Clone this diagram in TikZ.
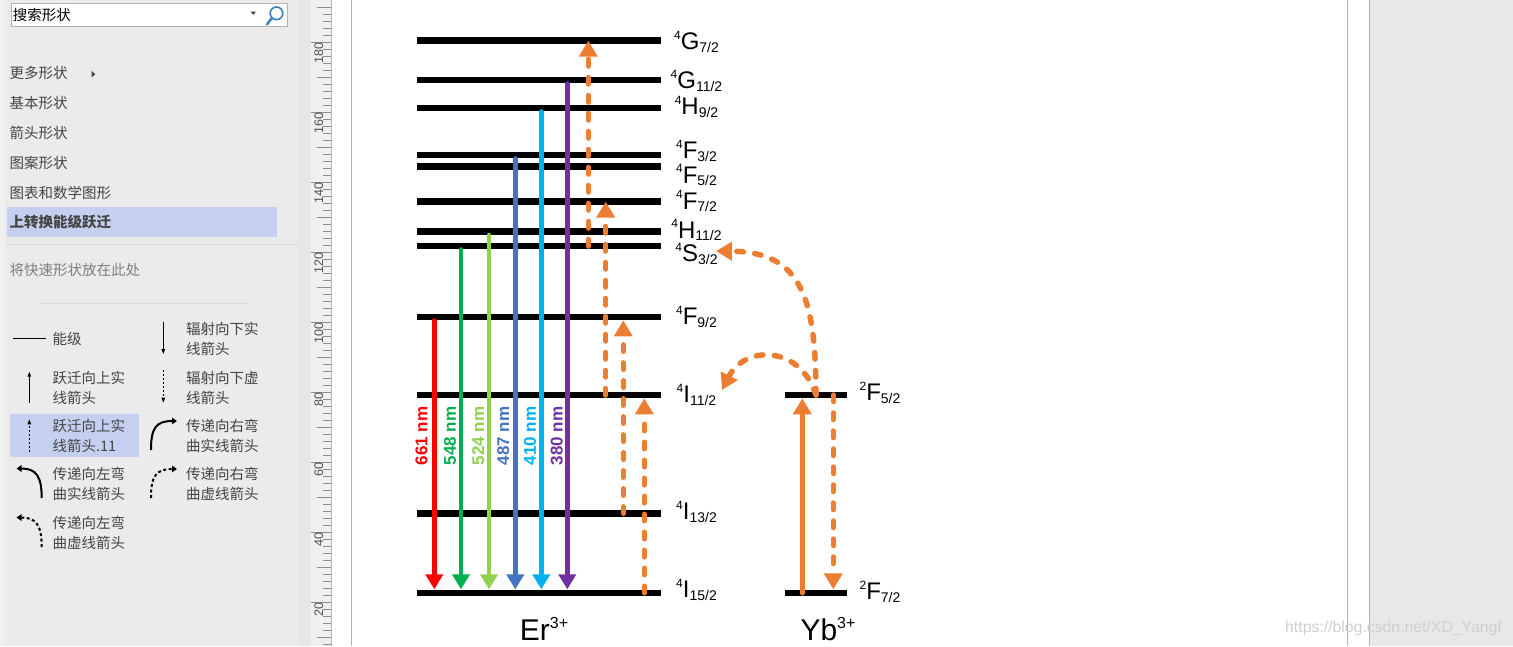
\documentclass[tikz,border=0pt]{standalone}
\usepackage{fontspec}
\setmainfont{Liberation Sans}
\newfontfamily\cjkfont{Noto Sans CJK SC}
\usetikzlibrary{arrows.meta}
\definecolor{upconvOrange}{HTML}{ED7D31}
\definecolor{upconvRed}{HTML}{FF0000}
\definecolor{upconvGreen}{HTML}{00B050}
\definecolor{upconvLightGreen}{HTML}{92D050}
\definecolor{upconvBlue}{HTML}{4472C4}
\definecolor{upconvCyan}{HTML}{00B0F0}
\definecolor{upconvPurple}{HTML}{7030A0}
\definecolor{paneGray}{HTML}{EBEBEB}
\definecolor{paneText}{HTML}{444444}
\definecolor{paneHint}{HTML}{7F7F7F}
\definecolor{paneSelect}{HTML}{C5D0F1}
\definecolor{paneRule}{HTML}{D9D9D9}
\definecolor{rulerDark}{HTML}{E6E6E6}
\definecolor{rulerLight}{HTML}{F0F0F0}
\definecolor{rulerTick}{HTML}{8C8C8C}
\definecolor{rulerText}{HTML}{505050}
\definecolor{pageEdge}{HTML}{B4B4B4}
\definecolor{canvasGray}{HTML}{E8E8E8}
\definecolor{markGray}{HTML}{CFCFCF}
\definecolor{searchBlue}{HTML}{3D7DC0}
\newcommand{\termsym}[3]{\raisebox{10.5pt}{\fontsize{12}{12}\selectfont #1}#2\raisebox{-2.5pt}{\fontsize{14}{14}\selectfont #3}}
\newcommand{\ionsym}[2]{#1\raisebox{12pt}{\fontsize{16}{16}\selectfont #2}}

\begin{document}
\begin{tikzpicture}[x=1pt,y=-1pt,
    statebar/.style={fill=black, inner sep=0pt, minimum height=6.5pt},
    erbar/.style={statebar, minimum width=244pt},
    ybbar/.style={statebar, minimum width=62pt},
    termlbl/.style={anchor=base, inner sep=0pt, font=\fontsize{24}{24}\selectfont},
    ionlbl/.style={anchor=base, inner sep=0pt, font=\fontsize{30}{30}\selectfont},
    emit/.style={line width=4.5pt, line cap=round, -{Triangle[length=15pt,width=17pt]}},
    wavelbl/.style={rotate=90, inner sep=0pt, font=\fontsize{17}{17}\selectfont\bfseries},
    absorb/.style={upconvOrange, line width=5.5pt, line cap=round, -{Triangle[length=16pt,width=18pt]}},
    pump/.style={absorb, dash pattern=on 6.5pt off 11.5pt},
    pane/.style={anchor=west, inner sep=0pt, text=paneText, align=left, font=\cjkfont\fontsize{14.5}{20}\selectfont},
    stencil/.style={line width=1pt, -{Triangle[length=5pt,width=3.5pt]}},
    stencilbend/.style={line width=2pt, -{Triangle[length=5pt,width=6.5pt]}},
    rulernum/.style={rotate=90, anchor=base east, inner sep=0pt, text=rulerText, font=\fontsize{12.5}{12.5}\selectfont}]
\useasboundingbox (0,0) rectangle (1513,646);
\fill[white] (0,0) rectangle (1513,646);

% shapes pane
\fill[paneGray] (0,0) rectangle (298,646);
\fill[rulerLight] (0,0) rectangle (5,646);
\fill[white, draw=pageEdge] (11.3,3.3) rectangle (286.7,26);
\node[pane, text=black] (search) at (12.7,15) {搜索形状};
\fill[paneText] (250.5,11.5) -- (256,11.5) -- (253.25,14.8) -- cycle;
\draw[searchBlue, line width=1.6pt] (276.5,13.3) circle (6.3);
\draw[searchBlue, line width=2.4pt, line cap=round] (271.8,18) -- (267,24.5);
\node[pane] (more) at (9.3,73.3) {更多形状};
\fill[paneText] (91.7,71) -- (95.3,74.2) -- (91.7,77.4) -- cycle;
\node[pane] (basic) at (9.3,103) {基本形状};
\node[pane] (arrows) at (9.3,133) {箭头形状};
\node[pane] (pattern) at (9.3,162.7) {图案形状};
\node[pane] (charts) at (9.3,192.7) {图表和数学图形};
\fill[paneSelect] (7,207) rectangle (277,237);
\node[pane, font=\cjkfont\bfseries\fontsize{14.5}{20}\selectfont] (upconv) at (9.3,221.7) {上转换能级跃迁};
\draw[paneRule] (7,244) -- (298,244);
\node[pane, text=paneHint] (quick) at (9.3,269.7) {将快速形状放在此处};
\draw[paneRule] (39,303) -- (248,303);

\draw[line width=1pt] (12.7,338.3) -- (45.7,338.3);
\node[pane] (s1) at (52.3,339.3) {能级};
\draw[stencil] (163.3,321.7) -- (163.3,354);
\node[pane] (s2) at (186,339.3) {辐射向下实\\线箭头};
\draw[stencil] (29.3,402.7) -- (29.3,371.7);
\node[pane] (s3) at (52.3,387.7) {跃迁向上实\\线箭头};
\draw[stencil, dash pattern=on 2pt off 2pt] (163.3,370) -- (163.3,402.7);
\node[pane] (s4) at (186,387.7) {辐射向下虚\\线箭头};
\fill[paneSelect] (10,414) rectangle (139,457);
\draw[stencil, dash pattern=on 2pt off 2pt] (29.3,451.7) -- (29.3,419.3);
\node[pane] (s5) at (52.3,435.7) {跃迁向上实\\线箭头.11};
\draw[stencilbend] (151,450) .. controls (151,428) and (156,421) .. (177,421);
\node[pane] (s6) at (186,435.7) {传递向右弯\\曲实线箭头};
\draw[stencilbend] (41.7,498) .. controls (41.7,476) and (36,468.5) .. (16.5,468.5);
\node[pane] (s7) at (52.3,484) {传递向左弯\\曲实线箭头};
\draw[stencilbend, dash pattern=on 3pt off 2.5pt] (151,498) .. controls (151,476) and (156,469) .. (177,469);
\node[pane] (s8) at (186,484) {传递向右弯\\曲虚线箭头};
\draw[stencilbend, dash pattern=on 3pt off 2.5pt] (41.7,547) .. controls (41.7,525) and (36,517.5) .. (16.5,517.5);
\node[pane] (s9) at (52.3,533.3) {传递向左弯\\曲虚线箭头};

% ruler
\fill[rulerDark] (298,0) rectangle (311,646);
\fill[rulerLight] (311,0) rectangle (331,646);
\draw[pageEdge] (331.5,0) -- (331.5,646);
\foreach \j in {0,...,91}
    \draw[rulerTick] (323,6.7+7*\j) -- (331,6.7+7*\j);
\foreach \j in {0,...,9}
    \draw[rulerTick] (317,6.7+70*\j) -- (331,6.7+70*\j);
\foreach \v [count=\k from 0] in {180,160,...,20} {
    \draw[rulerTick] (311,41.7+70*\k) -- (331,41.7+70*\k);
    \node[rulernum] (r\v) at (323,42.5+70*\k) {\v};
}

% page
\draw[pageEdge] (351,0) -- (351,646);
\draw[pageEdge] (1347,0) -- (1347,646);
\fill[canvasGray] (1369,0) rectangle (1513,646);
\draw[pageEdge] (1369,0) -- (1369,646);

% Er levels
\node[erbar] (G72) at (539,40.7) {};
\node[erbar] (G112) at (539,80) {};
\node[erbar] (H92) at (539,108) {};
\node[erbar] (F32) at (539,155) {};
\node[erbar] (F52) at (539,166.7) {};
\node[erbar] (F72) at (539,201.7) {};
\node[erbar] (H112) at (539,231.7) {};
\node[erbar] (S32) at (539,246) {};
\node[erbar] (F92) at (539,317) {};
\node[erbar] (I112) at (539,395) {};
\node[erbar] (I132) at (539,513.3) {};
\node[erbar] (I152) at (539,592.8) {};
\node[termlbl] (G72lbl) at (696.5,49.5) {\termsym{4}{G}{7/2}};
\node[termlbl] (G112lbl) at (696.5,88.5) {\termsym{4}{G}{11/2}};
\node[termlbl] (H92lbl) at (696.5,114.5) {\termsym{4}{H}{9/2}};
\node[termlbl] (F32lbl) at (696.5,158.5) {\termsym{4}{F}{3/2}};
\node[termlbl] (F52lbl) at (696.5,183) {\termsym{4}{F}{5/2}};
\node[termlbl] (F72lbl) at (696.5,209) {\termsym{4}{F}{7/2}};
\node[termlbl] (H112lbl) at (696.5,238) {\termsym{4}{H}{11/2}};
\node[termlbl] (S32lbl) at (696.5,261.5) {\termsym{4}{S}{3/2}};
\node[termlbl] (F92lbl) at (696.5,324.5) {\termsym{4}{F}{9/2}};
\node[termlbl] (I112lbl) at (696.5,402.5) {\termsym{4}{I}{11/2}};
\node[termlbl] (I132lbl) at (696.5,519.5) {\termsym{4}{I}{13/2}};
\node[termlbl] (I152lbl) at (696.5,597.5) {\termsym{4}{I}{15/2}};
\node[ionlbl] (er) at (544,640) {\ionsym{Er}{3+}};

% emissions
\draw[emit, upconvRed] ([xshift=-104.7pt]F92.south) -- ([xshift=-104.7pt]I152.north);
\draw[emit, upconvGreen] ([xshift=-78pt]S32.south) -- ([xshift=-78pt]I152.north);
\draw[emit, upconvLightGreen] ([xshift=-50pt]H112.south) -- ([xshift=-50pt]I152.north);
\draw[emit, upconvBlue] ([xshift=-23.7pt]F32.south) -- ([xshift=-23.7pt]I152.north);
\draw[emit, upconvCyan] ([xshift=2.3pt]H92.south) -- ([xshift=2.3pt]I152.north);
\draw[emit, upconvPurple] ([xshift=28.3pt]G112.south) -- ([xshift=28.3pt]I152.north);
\node[wavelbl, text=upconvRed] (w661) at (421.5,436) {661 nm};
\node[wavelbl, text=upconvGreen] (w548) at (450,436) {548 nm};
\node[wavelbl, text=upconvLightGreen] (w524) at (478.3,436) {524 nm};
\node[wavelbl, text=upconvBlue] (w487) at (503.3,436) {487 nm};
\node[wavelbl, text=upconvCyan] (w410) at (530,436) {410 nm};
\node[wavelbl, text=upconvPurple] (w380) at (556.7,436) {380 nm};

% upconversion steps
\draw[pump] ([xshift=105.3pt]I152.center) -- ([xshift=105.3pt]I112.south);
\draw[pump] ([xshift=84.3pt]I132.center) -- ([xshift=84.3pt]F92.south);
\draw[pump] ([xshift=66.7pt]I112.center) -- ([xshift=66.7pt]F72.center);
\draw[pump] ([xshift=49.3pt]S32.center) -- ([xshift=49.3pt]G72.center);

% Yb levels
\node[ybbar] (F52yb) at (816,395) {};
\node[ybbar] (F72yb) at (816,592.8) {};
\node[termlbl] (F52yblbl) at (880,400.5) {\termsym{2}{F}{5/2}};
\node[termlbl] (F72yblbl) at (880,599.5) {\termsym{2}{F}{7/2}};
\node[ionlbl] (yb) at (828,640) {\ionsym{Yb}{3+}};
\draw[absorb] ([xshift=-13.7pt]F72yb.center) -- ([xshift=-13.7pt]F52yb.south);
\draw[pump] ([xshift=17.3pt]F52yb.center) -- ([xshift=17.3pt]F72yb.north);
\coordinate (toS32) at (716,251);
\coordinate (toI112) at (722,390);
\draw[pump] (F52yb.center) .. controls +(0,-100) and +(84,1) .. (toS32);
\draw[pump] (F52yb.center) .. controls +(-16,-50) and +(23,-45) .. (toI112);

\node[anchor=west, inner sep=0pt, text=markGray, font=\fontsize{15.8}{15.8}\selectfont] (mark) at (1285,628) {https://blog.csdn.net/XD\_Yangf};
\end{tikzpicture}
\end{document}
